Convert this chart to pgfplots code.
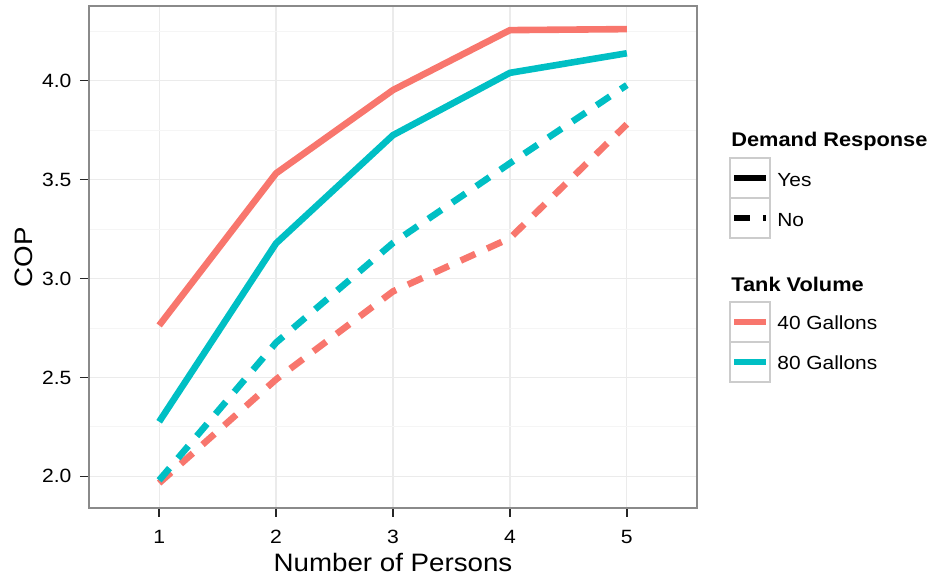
\documentclass[border=0pt]{standalone}
\usepackage{fontspec}
\setmainfont[FakeStretch=1.1]{Liberation Sans}
\usepackage{pgfplots}
\usepackage{pgfplotstable}
\pgfplotsset{compat=1.18}
\definecolor{cRed}{HTML}{F8766D}
\definecolor{cTeal}{HTML}{00BFC4}
\definecolor{gMaj}{HTML}{EBEBEB}
\definecolor{gMin}{HTML}{F5F5F5}
\definecolor{gBorder}{HTML}{8A8A8A}
\definecolor{gKey}{HTML}{CCCCCC}
\pgfplotstableread{
x fortyY eightyY fortyN eightyN
1 2.763 2.276 1.966 1.980
2 3.532 3.178 2.490 2.676
3 3.953 3.725 2.935 3.180
4 4.256 4.040 3.204 3.583
5 4.261 4.139 3.780 3.978
}\datatable
\begin{document}
\begin{tikzpicture}
\useasboundingbox (-44.5pt,-36.5pt) rectangle (421.5pt,254pt);
\begin{axis}[
  at={(0,0)}, anchor=south west, scale only axis,
  width=304pt, height=251pt,
  xmin=0.4, xmax=5.6, ymin=1.84, ymax=4.378,
  xtick={1,2,3,4,5}, ytick={2,2.5,3,3.5,4},
  minor ytick={2.25,2.75,3.25,3.75,4.25},
  xtick pos=bottom, ytick pos=left, tick align=outside,
  major tick length=4.5pt, minor tick length=0pt,
  grid=both,
  major grid style={gMaj, line width=0.6pt},
  minor grid style={gMin, line width=0.4pt},
  axis line style={gBorder, line width=0.7pt},
  tick style={black!85, line width=0.7pt},
  /pgf/number format/assume math mode=true,
  yticklabel style={/pgf/number format/fixed, /pgf/number format/fixed zerofill, /pgf/number format/precision=1},
  ticklabel style={font=\fontsize{9.6}{11}\selectfont},
  xticklabel style={anchor=north, inner sep=0pt, yshift=-6.5pt},
  yticklabel style={anchor=east, inner sep=0pt, xshift=-4.1pt},
  xlabel={Number of Persons}, ylabel={COP},
  label style={font=\fontsize{12.6}{14}\selectfont},
  xlabel style={at={(axis description cs:0.5,0)}, anchor=base, inner sep=0pt, yshift=-32pt},
  ylabel style={at={(axis description cs:-0.0921,0.5)}, anchor=base, inner sep=0pt},
  every axis plot/.append style={line width=3.3pt, line cap=butt, line join=round},
]
\addplot[cRed] table[x=x, y=fortyY] {\datatable};
\addplot[cRed, dash pattern=on 8pt off 6.5pt] table[x=x, y=fortyN] {\datatable};
\addplot[cTeal] table[x=x, y=eightyY] {\datatable};
\addplot[cTeal, dash pattern=on 8pt off 6.5pt] table[x=x, y=eightyN] {\datatable};
\end{axis}
% legends
\node[anchor=base west, inner sep=0pt, font=\bfseries\fontsize{9.9}{12}\selectfont] at (321pt,180.5pt) {Demand Response};
\draw[gKey, line width=0.6pt] (320.5pt,155pt) rectangle (340.5pt,175pt);
\draw[gKey, line width=0.6pt] (320.5pt,135pt) rectangle (340.5pt,155pt);
\draw[black, line width=3.3pt] (322.5pt,165pt) -- (338.5pt,165pt);
\draw[black, line width=3.3pt, dash pattern=on 8pt off 6.5pt] (322.5pt,145pt) -- (338.5pt,145pt);
\node[anchor=base west, inner sep=0pt, font=\fontsize{9.5}{11}\selectfont] at (344pt,160.7pt) {Yes};
\node[anchor=base west, inner sep=0pt, font=\fontsize{9.5}{11}\selectfont] at (344pt,140.7pt) {No};
\node[anchor=base west, inner sep=0pt, font=\bfseries\fontsize{9.9}{12}\selectfont] at (321pt,108.2pt) {Tank Volume};
\draw[gKey, line width=0.6pt] (320.5pt,83pt) rectangle (340.5pt,103pt);
\draw[gKey, line width=0.6pt] (320.5pt,63pt) rectangle (340.5pt,83pt);
\draw[cRed, line width=3.3pt] (322.5pt,93pt) -- (338.5pt,93pt);
\draw[cTeal, line width=3.3pt] (322.5pt,73pt) -- (338.5pt,73pt);
\node[anchor=base west, inner sep=0pt, font=\fontsize{9.5}{11}\selectfont] at (344pt,89pt) {40 Gallons};
\node[anchor=base west, inner sep=0pt, font=\fontsize{9.5}{11}\selectfont] at (344pt,69pt) {80 Gallons};
\end{tikzpicture}
\end{document}
